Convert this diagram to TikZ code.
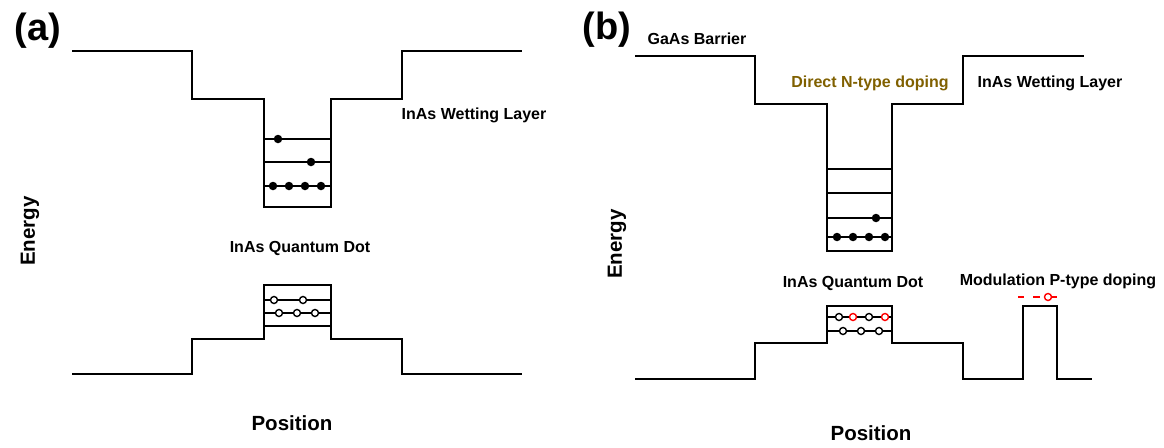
\documentclass[tikz,border=0pt]{standalone}
\usepackage{fontspec}
\setmainfont{Liberation Sans}
\definecolor{dopeolive}{RGB}{128,96,0}
\tikzset{
  band/.style={line width=2.8pt, line join=miter, line cap=rect},
  level/.style={line width=2pt},
  elec/.style={circle, fill=black, inner sep=0pt, minimum size=8.5pt},
  hole/.style={circle, draw=black, fill=white, line width=1.4pt, inner sep=0pt, minimum size=7pt},
  redhole/.style={hole, draw=red},
  acc/.style={red, line width=2.2pt},
  lbl/.style={font=\bfseries\fontsize{16}{18}\selectfont, inner sep=0pt},
  axis/.style={font=\bfseries\fontsize{20.5}{24}\selectfont, inner sep=0pt},
  tag/.style={font=\bfseries\fontsize{38}{42}\selectfont, inner sep=0pt}
}
\begin{document}
\begin{tikzpicture}[x=1pt, y=-1pt]
\useasboundingbox (0,0) rectangle (1164,447);

% ---------------- panel (a) ----------------
\node[tag] (taga) at (38,31) {(a)};
% conduction band
\draw[band] (73,51) -- (192,51) -- (192,99) -- (264,99) -- (264,207) -- (331,207)
  -- (331,99) -- (402,99) -- (402,51) -- (521,51);
% confined electron levels
\draw[level] (264,139) -- (331,139);
\draw[level] (264,162) -- (331,162);
\draw[level] (264,186) -- (331,186);
\node[elec] (ea1) at (278,139) {};
\node[elec] (ea2) at (311,162) {};
\foreach \x/\n in {273/1,289/2,305/3,321/4} \node[elec] (ea3\n) at (\x,186) {};
% valence band
\draw[band] (73,374) -- (192,374) -- (192,339) -- (264,339) -- (264,285) -- (331,285)
  -- (331,339) -- (402,339) -- (402,374) -- (521,374);
\draw[level] (264,300) -- (331,300);
\draw[level] (264,313) -- (331,313);
\draw[level] (264,326) -- (331,326);
\foreach \x/\n in {274/1,303/2} \node[hole] (ha1\n) at (\x,300) {};
\foreach \x/\n in {279/1,297/2,315/3} \node[hole] (ha2\n) at (\x,313) {};
% labels
\node[lbl] (wla) at (474,115) {InAs Wetting Layer};
\node[lbl] (qda) at (300,248) {InAs Quantum Dot};
\node[axis, rotate=90] (ena) at (30,231) {Energy};
\node[axis] (posa) at (292,423) {Position};

% ---------------- panel (b) ----------------
\node[tag] (tagb) at (607,30) {(b)};
% conduction band
\draw[band] (636,56) -- (755,56) -- (755,104) -- (827,104) -- (827,251) -- (892,251)
  -- (892,104) -- (963,104) -- (963,56) -- (1083,56);
\draw[level] (827,169) -- (892,169);
\draw[level] (827,193) -- (892,193);
\draw[level] (827,218) -- (892,218);
\draw[level] (827,237) -- (892,237);
\node[elec] (eb1) at (876,218) {};
\foreach \x/\n in {837/1,853/2,869/3,885/4} \node[elec] (eb2\n) at (\x,237) {};
% valence band with modulation-doped barrier
\draw[band] (636,379) -- (755,379) -- (755,343) -- (827,343) -- (827,306) -- (892,306)
  -- (892,343) -- (963,343) -- (963,379) -- (1023,379) -- (1023,306) -- (1057,306)
  -- (1057,379) -- (1091,379);
\draw[level] (827,317) -- (892,317);
\draw[level] (827,331) -- (892,331);
\node[hole] (hb11) at (839,317) {};
\node[redhole] (hb12) at (853,317) {};
\node[hole] (hb13) at (869,317) {};
\node[redhole] (hb14) at (885,317) {};
\foreach \x/\n in {843/1,861/2,879/3} \node[hole] (hb2\n) at (\x,331) {};
% acceptor level in the barrier
\coordinate (acc0) at (1018,297);
\coordinate (acc1) at (1024,297);
\coordinate (acc2) at (1033,297);
\coordinate (acc3) at (1040,297);
\coordinate (acc4) at (1057,297);
\draw[acc] (acc0) -- (acc1);
\draw[acc] (acc2) -- (acc3);
\node[redhole] (acch) at (1048,297) {};
\draw[acc] (acch) -- (acc4);
% labels
\node[lbl] (gab) at (697,39) {GaAs Barrier};
\node[lbl, text=dopeolive] (ndop) at (870,83) {Direct N-type doping};
\node[lbl] (wlb) at (1050,83) {InAs Wetting Layer};
\node[lbl] (qdb) at (853,283) {InAs Quantum Dot};
\node[lbl] (pdop) at (1058,281) {Modulation P-type doping};
\node[axis, rotate=90] (enb) at (617,244) {Energy};
\node[axis] (posb) at (871,433) {Position};
\end{tikzpicture}
\end{document}
